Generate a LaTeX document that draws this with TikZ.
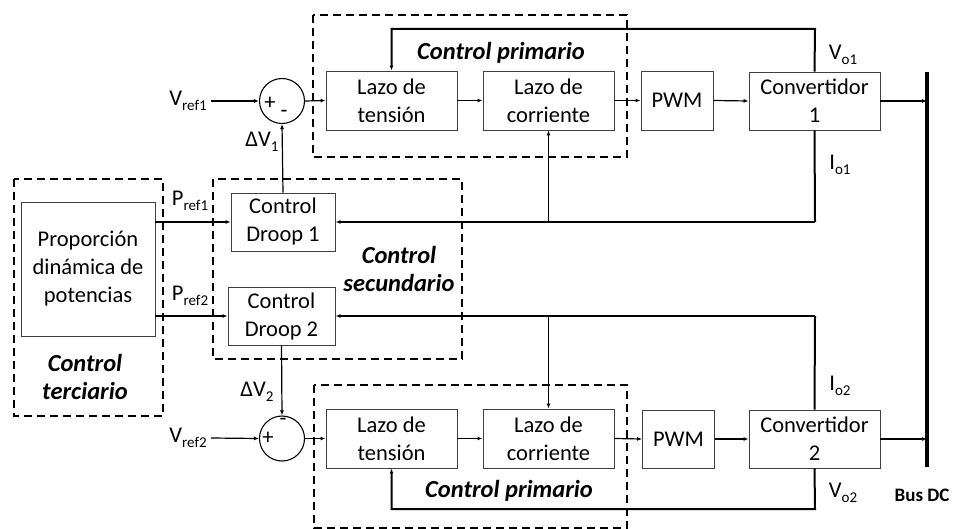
\documentclass[tikz,border=0pt]{standalone}
\usepackage{fontspec}
\setmainfont{Carlito}
\usetikzlibrary{arrows.meta}
\newcommand\lowidx[1]{\raisebox{-0.45ex}{\fontsize{15}{15}\selectfont #1}}
\begin{document}
\begin{tikzpicture}[x=1pt,y=-1pt,
  font=\fontsize{22.5}{28}\selectfont,
  blk/.style={draw=black!75,line width=0.9pt,align=center,inner sep=0pt,minimum height=59pt},
  sumc/.style={draw,circle,line width=1.1pt,minimum size=45pt,inner sep=0pt},
  sig/.style={line width=1.2pt,-{Latex[length=5pt,width=4pt]}},
  fb/.style={line width=2pt},
  fbarrow/.style={line width=2pt,-{Latex[length=5pt,width=4pt]}},
  group/.style={line width=2pt,dash pattern=on 8pt off 5pt},
  grouplabel/.style={font=\fontsize{24.5}{28}\selectfont\bfseries\itshape,align=center},
  lbl/.style={inner sep=1pt}]
\useasboundingbox (0,0) rectangle (957,529);

% dashed grouping frames
\draw[group] (313,15) rectangle (627,157);
\draw[group] (213,179) rectangle (462,359);
\draw[group] (14,179) rectangle (163,416);
\draw[group] (314,385) rectangle (627,528);

% upper chain
\node[sumc] (s1) at (282,101) {};
\node[blk,minimum width=131pt] (lt1) at (391.5,100.5) {Lazo de\\tensión};
\node[blk,minimum width=131pt] (lc1) at (548.5,100.5) {Lazo de\\corriente};
\node[blk,minimum width=72pt] (pwm1) at (677,100.5) {PWM};
\node[blk,minimum width=131pt,minimum height=58pt] (cv1) at (814.5,101) {Convertidor\\1};

% lower chain
\node[sumc] (s2) at (282,438.5) {};
\node[blk,minimum width=131pt] (lt2) at (391.5,438.5) {Lazo de\\tensión};
\node[blk,minimum width=131pt] (lc2) at (548.5,438.5) {Lazo de\\corriente};
\node[blk,minimum width=72pt,minimum height=58pt] (pwm2) at (678.5,439) {PWM};
\node[blk,minimum width=131pt,minimum height=58pt] (cv2) at (814.5,439) {Convertidor\\2};

% secondary and tertiary blocks
\node[blk,minimum width=104pt,minimum height=58pt] (dr1) at (283,222) {Control\\Droop 1};
\node[blk,minimum width=107pt,minimum height=58pt] (dr2) at (281.5,316) {Control\\Droop 2};
\node[blk,minimum width=134pt,minimum height=134pt] (prop) at (88,269) {Proporción\\dinámica de\\potencias};

% DC bus
\coordinate (busT) at (927,72);
\coordinate (busB) at (927,467);
\draw[line width=4pt] (busT) -- (busB);
\coordinate (b1) at (927,101);
\coordinate (b2) at (927,439);

% signs in the summing junctions
\node at (270,103) {+};
\node at (284,114) {-};
\node at (268,438) {+};
\node at (283,422) {-};

% input labels
\node[lbl,inner xsep=4pt] (vr1) at (188,101) {V\lowidx{ref1}};
\node[lbl,inner xsep=4pt] (vr2) at (188,438) {V\lowidx{ref2}};
\node[lbl] at (262,142) {ΔV\lowidx{1}};
\node[lbl] at (257,392) {ΔV\lowidx{2}};
\node[lbl] at (190,201) {P\lowidx{ref1}};
\node[lbl] at (190,296) {P\lowidx{ref2}};
\node[lbl] at (843,55) {V\lowidx{o1}};
\node[lbl] at (840,165) {I\lowidx{o1}};
\node[lbl] at (840,386) {I\lowidx{o2}};
\node[lbl] at (843,493) {V\lowidx{o2}};
\node[font=\fontsize{19}{20}\selectfont\bfseries] at (922,495) {Bus DC};

% group titles
\node[grouplabel] at (501,53) {Control primario};
\node[grouplabel] at (509,491) {Control primario};
\node[grouplabel] at (399,269) {Control\\secundario};
\node[grouplabel] at (85,377) {Control\\terciario};

% forward paths
\draw[sig] (vr1.east) -- (s1.west);
\draw[sig] (s1.east) -- (lt1.west);
\draw[sig] (lt1.east) -- (lc1.west);
\draw[sig] (lc1.east) -- (pwm1.west);
\draw[sig] (pwm1.east) -- (cv1.west);
\draw[sig] (cv1.east) -- (b1);

\draw[sig] (vr2.east) -- (s2.west);
\draw[sig] (s2.east) -- (lt2.west);
\draw[sig] (lt2.east) -- (lc2.west);
\draw[sig] (lc2.east) -- (pwm2.west);
\draw[sig] (pwm2.east) -- (cv2.west);
\draw[sig] (cv2.east) -- (b2);

% droop outputs into the summing junctions
\draw[sig] (dr1.north) -- (s1.south);
\draw[sig] (dr2.south) -- (s2.north);

% power references
\draw[sig] (prop.east |- dr1.west) -- (dr1.west);
\draw[sig] (prop.east |- dr2.west) -- (dr2.west);

% voltage feedback loops
\coordinate (t1) at (815,29);
\draw[fbarrow] (cv1.north) -- (t1) -| (lt1.north);
\coordinate (t2) at (815,509);
\draw[fbarrow] (cv2.south) -- (t2) -| (lt2.south);

% current feedback to droop and current loops
\coordinate (i1) at (815,222);
\coordinate (j1) at (548.5,222);
\draw[fb] (cv1.south) -- (i1);
\draw[sig] (i1) -- (dr1.east);
\draw[sig] (j1) -- (lc1.south);

\coordinate (i2) at (815,316);
\coordinate (j2) at (548.5,316);
\draw[fb] (cv2.north) -- (i2);
\draw[sig] (i2) -- (dr2.east);
\draw[sig] (j2) -- (lc2.north);
\end{tikzpicture}
\end{document}
